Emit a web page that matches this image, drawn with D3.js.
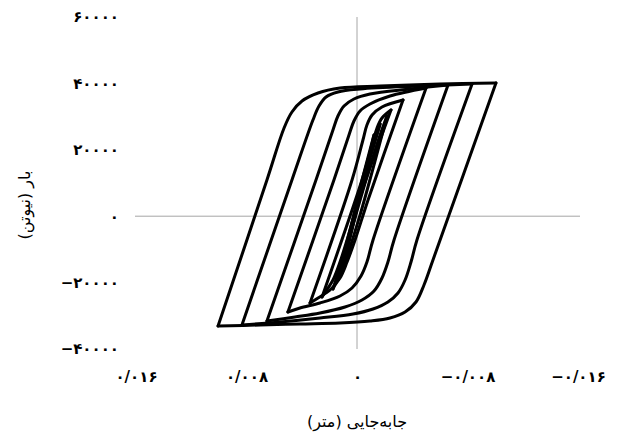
<!DOCTYPE html>
<html>
<head>
<meta charset="utf-8">
<script src="https://cdnjs.cloudflare.com/ajax/libs/d3/7.8.5/d3.min.js"></script>
<style>
  body { margin: 0; background: #fff; }
  svg { display: block; }
  text { font-family: "DejaVu Sans", sans-serif; fill: #000; }
</style>
</head>
<body>
<svg id="chart" width="618" height="435"></svg>
<script>
// Tick values (displacement in metres, load in newtons)
const xTicks = [0.016, 0.008, 0, -0.008, -0.016];
const yTicks = [-40000, -20000, 0, 20000, 40000, 60000];

// Hysteresis cycles, largest first: [displacement, load]
const cycle1 = [
  [-0.01006, 40120], [-0.00550, -13190], [-0.00485, -20720], [-0.00427, -25840],
  [-0.00348, -28850], [-0.00239, -30660], [-0.00094, -31570], [0.00123, -32170],
  [0.00413, -32470], [0.00702, -32770], [0.01006, -33070],
  [0.00652, 10900], [0.00528, 26570], [0.00471, 31380], [0.00398, 34700],
  [0.00282, 37110], [0.00123, 38610], [-0.00167, 39220], [-0.00601, 39820],
  [-0.01006, 40120]
];
const cycle2 = [
  [-0.00833, 39820], [-0.00434, -7170], [-0.00391, -13800], [-0.00348, -19220],
  [-0.00297, -23130], [-0.00224, -25840], [-0.00116, -27950], [0.00029, -29460],
  [0.00268, -30660], [0.00557, -31870], [0.00833, -32770],
  [0.00471, 10900], [0.00319, 28970], [0.00275, 33190], [0.00224, 35900],
  [0.00138, 37410], [-0.00022, 38310], [-0.00456, 39220], [-0.00833, 39820]
];
const cycle3 = [
  [-0.00659, 39520], [-0.00268, -7170], [-0.00224, -13800], [-0.00181, -18610],
  [-0.00123, -22530], [-0.00036, -25240], [0.00087, -27350], [0.00268, -29160],
  [0.00449, -30360], [0.00652, -31570],
  [0.00297, 10900], [0.00174, 25960], [0.00138, 30180], [0.00094, 33190],
  [0.00022, 35300], [-0.00094, 36810], [-0.00384, 38310], [-0.00659, 39520]
];
const cycle4 = [
  [-0.00500, 38610], [-0.00116, -7170], [-0.00072, -13800], [-0.00029, -18010],
  [0.00036, -21630], [0.00123, -24040], [0.00268, -26140], [0.00413, -27650],
  [0.00500, -28850],
  [0.00167, 10900], [0.00058, 24460], [0.00022, 28670], [-0.00022, 31690],
  [-0.00094, 33790], [-0.00239, 36200], [-0.00500, 38610]
];
const cycle5 = [
  [-0.00333, 35000], [-0.00080, 4880], [0.00014, -7170], [0.00072, -13800],
  [0.00123, -18610], [0.00195, -22230], [0.00282, -24640], [0.00340, -26140],
  [0.00036, 10900], [-0.00043, 22950], [-0.00072, 27470], [-0.00109, 30480],
  [-0.00181, 32890], [-0.00333, 35000]
];
const cycle6 = [
  [-0.00246, 31990], [-0.00014, 4880], [0.00072, -7170], [0.00123, -13800],
  [0.00174, -19220], [0.00224, -22530], [0.00253, -24340],
  [-0.00036, 10900], [-0.00109, 21450], [-0.00145, 26570], [-0.00181, 29580],
  [-0.00246, 31990]
];
const cycle7 = [
  [-0.00217, 30180], [-0.00022, 360], [0.00087, -13800], [0.00174, -21930],
  [0.00051, -5660], [-0.00065, 10900], [-0.00167, 24460], [-0.00217, 30180]
];
const cycle8 = [
  [-0.00167, 27770], [-0.00007, 4880], [0.00087, -10180], [0.00138, -19220],
  [0.00036, -3550], [-0.00065, 13310], [-0.00167, 27770]
];
const cycle9 = [
  [-0.00123, 24460], [0.00007, 3370], [0.00101, -15600],
  [-0.00014, 4880], [-0.00123, 24460]
];
const cycles = [cycle1, cycle2, cycle3, cycle4, cycle5, cycle6, cycle7, cycle8, cycle9];

const svg = d3.select("#chart");
const x = d3.scaleLinear().domain([0.016, -0.016]).range([136, 578]);
const y = d3.scaleLinear().domain([-40000, 60000]).range([349, 17]);

// Persian digits, "/" as decimal separator, true minus sign
const fa = v => String(v)
  .replace(/\d/g, d => "۰۱۲۳۴۵۶۷۸۹"[d])
  .replace(".", "/")
  .replace("-", "−");

// Zero lines
svg.append("line")
  .attr("x1", 135).attr("x2", 580)
  .attr("y1", y(0)).attr("y2", y(0))
  .attr("stroke", "#a6a6a6").attr("stroke-width", 1);
svg.append("line")
  .attr("x1", x(0)).attr("x2", x(0))
  .attr("y1", y(60000)).attr("y2", y(-40000))
  .attr("stroke", "#a6a6a6").attr("stroke-width", 1);

const tickStyle = sel => sel
  .style("font-family", "DejaVu Sans, sans-serif")
  .style("font-size", "15px")
  .style("font-weight", "bold")
  .style("letter-spacing", "1px");

// Y tick labels
const yAxis = svg.append("g")
  .attr("transform", "translate(135,0)")
  .call(d3.axisLeft(y).tickValues(yTicks).tickSize(0).tickPadding(16).tickFormat(fa));
yAxis.select(".domain").remove();
yAxis.selectAll("text").call(tickStyle);

// X tick labels
const xAxis = svg.append("g")
  .attr("transform", "translate(0,349)")
  .call(d3.axisBottom(x).tickValues(xTicks).tickSize(0).tickPadding(22).tickFormat(fa));
xAxis.select(".domain").remove();
xAxis.selectAll("text").call(tickStyle);

// Cycles: each drawn as two branches so the reversal corners stay sharp
const line = d3.line()
  .x(d => x(d[0]))
  .y(d => y(d[1]))
  .curve(d3.curveCatmullRom.alpha(0.5));

const g = svg.append("g");
cycles.forEach(c => {
  const i = d3.maxIndex(c, d => d[0]);
  [c.slice(0, i + 1), c.slice(i)].forEach(branch => {
    g.append("path")
      .attr("d", line(branch))
      .attr("fill", "none")
      .attr("stroke", "#000")
      .attr("stroke-width", 3)
      .attr("stroke-linecap", "round")
      .attr("stroke-linejoin", "round");
  });
});

// Axis titles (right-to-left)
svg.append("text")
  .attr("x", 357).attr("y", 427)
  .attr("text-anchor", "middle")
  .attr("direction", "rtl")
  .style("font-size", "16px")
  .text("جابه‌جایی (متر)");

svg.append("text")
  .attr("transform", "translate(30,205) rotate(-90)")
  .attr("text-anchor", "middle")
  .attr("direction", "rtl")
  .style("font-size", "16px")
  .text("بار (نیوتن)");
</script>
</body>
</html>
